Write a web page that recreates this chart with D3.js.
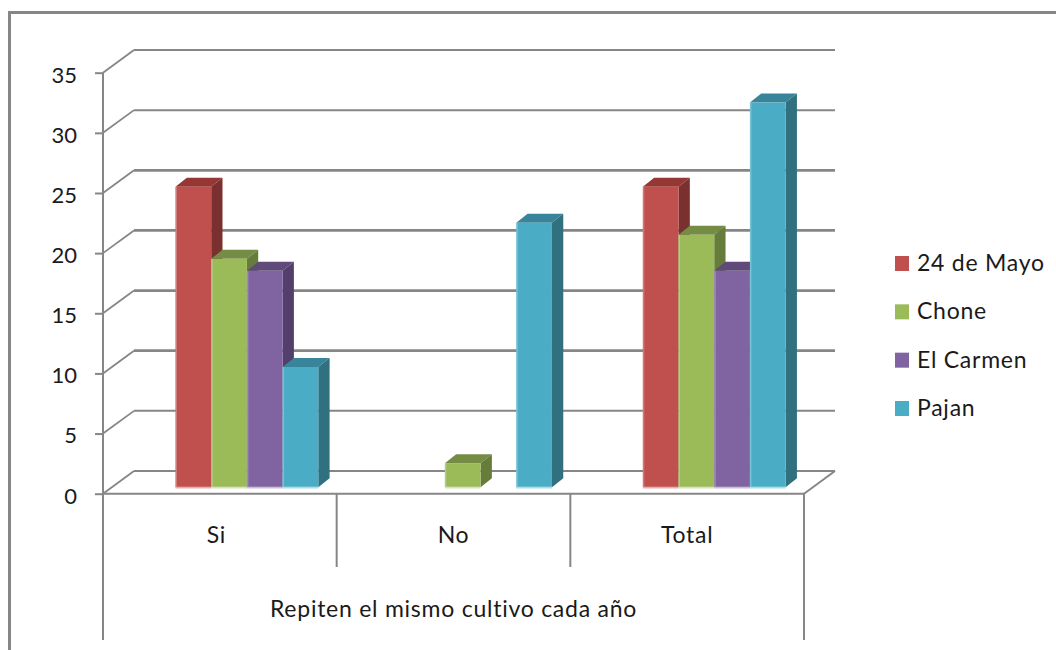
<!DOCTYPE html>
<html lang="es">
<head>
<meta charset="utf-8">
<title>Repiten el mismo cultivo cada año</title>
<script src="https://cdn.jsdelivr.net/npm/d3@7"></script>
<style>
  html, body { margin: 0; padding: 0; background: #fff; }
  svg { display: block; }
  text { font-family: Lato, "Open Sans", sans-serif; fill: #1a1a1a; font-size: 23px; letter-spacing: 0.75px; }
  .tick text { font-size: 22px; letter-spacing: 0; }
</style>
</head>
<body>
<svg id="chart" width="1056" height="650"></svg>
<script>
// Survey counts per canton; null means the canton has no bar in that group.
const categories = ["Si", "No", "Total"];
const seriesNames = ["24 de Mayo", "Chone", "El Carmen", "Pajan"];
const values24DeMayo = [25, null, 25];
const valuesChone = [19, 2, 21];
const valuesElCarmen = [18, null, 18];
const valuesPajan = [10, 22, 32];
const yTicks = [0, 5, 10, 15, 20, 25, 30, 35];
const groupTitle = "Repiten el mismo cultivo cada año";

const seriesValues = [values24DeMayo, valuesChone, valuesElCarmen, valuesPajan];
const faceColors = ["#C0504D", "#9BBB59", "#8064A2", "#4BACC6"];
const topColors = ["#943735", "#748C43", "#5F4A79", "#38849A"];
const sideColors = ["#7A302E", "#657C3A", "#533F6C", "#31707F"];
const baseColors = ["#E3AFAD", "#D6E3BC", "#C9BBD9", "#B0DDE8"];

const gray = "#868686";
const svg = d3.select("#chart");

// Outer frame: only the top and left edges fall inside the canvas.
svg.append("path")
  .attr("d", d3.line()([[9.5, 650], [9.5, 12.5], [1056, 12.5]]))
  .attr("fill", "none").attr("stroke", gray).attr("stroke-width", 3);

// Oblique projection: the back wall is shifted from the front plane.
const wallDx = 31, wallDy = 22.7;
const x = d3.scaleBand().domain(categories).range([103, 804]);
const yFront = d3.scaleLinear().domain([0, 35]).range([493.7, 72.7]);
const yBars = d3.scaleLinear().domain([0, 35]).range([487.2, 66.5]);
const xSeries = d3.scaleBand().domain(seriesNames)
  .range([72.5, 72.5 + 35.7 * seriesNames.length]);

// Back wall gridlines and the diagonals joining them to the front axis.
const wall = svg.append("g").attr("stroke", gray).attr("fill", "none");
yTicks.forEach(t => {
  const yf = yFront(t), yb = yf - wallDy;
  wall.append("line")
    .attr("x1", 103 + wallDx).attr("x2", 804 + wallDx)
    .attr("y1", yb).attr("y2", yb)
    .attr("stroke-width", t >= 10 && t <= 25 ? 2.8 : 2);
  wall.append("line")
    .attr("x1", 103).attr("x2", 103 + wallDx)
    .attr("y1", yf).attr("y2", yb)
    .attr("stroke-width", 1.8);
});
// Right-hand edge of the floor.
wall.append("line")
  .attr("x1", 804).attr("x2", 804 + wallDx)
  .attr("y1", yFront(0)).attr("y2", yFront(0) - wallDy)
  .attr("stroke-width", 2);

// Bars, left to right, so each front face overlaps its neighbour's side.
const barDx = 11.3, barDy = 9;
const barW = xSeries.bandwidth();
const bars = svg.append("g");
categories.forEach((cat, c) => {
  seriesNames.forEach((name, s) => {
    const v = seriesValues[s][c];
    if (v === null) return;
    const x0 = x(cat) + xSeries(name), x1 = x0 + barW;
    const yT = yBars(v), yB = yBars(0);
    bars.append("polygon")
      .attr("points", [[x0, yT], [x0 + barDx, yT - barDy], [x1 + barDx, yT - barDy], [x1, yT]].join(" "))
      .attr("fill", topColors[s]);
    bars.append("polygon")
      .attr("points", [[x1, yT], [x1 + barDx, yT - barDy], [x1 + barDx, yB - barDy], [x1, yB]].join(" "))
      .attr("fill", sideColors[s]);
    bars.append("rect")
      .attr("x", x0).attr("y", yT).attr("width", barW).attr("height", yB - yT)
      .attr("fill", faceColors[s]);
    // Pale lower rim of the bar.
    bars.append("rect")
      .attr("x", x0).attr("y", yB - 0.5).attr("width", barW).attr("height", 1.8)
      .attr("fill", baseColors[s]);
    // Soft highlight down the left edge.
    bars.append("rect")
      .attr("x", x0).attr("y", yT).attr("width", 1.5).attr("height", yB - yT)
      .attr("fill", baseColors[s]).attr("opacity", 0.45);
  });
});

// Value axis with the tick labels on the front plane.
const axisG = svg.append("g")
  .attr("transform", "translate(103,0)")
  .call(d3.axisLeft(yFront).tickValues(yTicks).tickSize(8).tickPadding(18).tickFormat(d3.format("d")));
axisG.select(".domain").remove();
axisG.selectAll(".tick line").attr("stroke", gray).attr("stroke-width", 2);
axisG.selectAll(".tick text").attr("font-family", null).attr("font-size", null).attr("dy", "0.36em")
  .attr("transform", "translate(0,1.5)").style("fill", "#1a1a1a");

// Front axis lines and the multi-level category separators.
const frame = svg.append("g").attr("stroke", gray).attr("fill", "none").attr("stroke-width", 2);
frame.append("line").attr("x1", 103).attr("x2", 804)
  .attr("y1", yFront(0)).attr("y2", yFront(0));
frame.append("line").attr("x1", 103).attr("x2", 103)
  .attr("y1", yFront(35)).attr("y2", 640);
frame.append("line").attr("x1", 804).attr("x2", 804)
  .attr("y1", yFront(0)).attr("y2", 640);
categories.slice(1).forEach(cat => {
  frame.append("line").attr("x1", x(cat)).attr("x2", x(cat))
    .attr("y1", yFront(0)).attr("y2", 567);
});

// Category labels and the group title below them; the short first label sits left of centre.
svg.append("g").selectAll("text").data(categories).join("text")
  .attr("x", (d, i) => x(d) + x.bandwidth() / 2 - (i === 0 ? 3.5 : 0))
  .attr("y", 543)
  .attr("text-anchor", "middle")
  .text(d => d);
svg.append("text")
  .attr("x", 453.5).attr("y", 617)
  .attr("text-anchor", "middle")
  .text(groupTitle);

// Legend.
const legendY = d3.scalePoint().domain(seriesNames).range([263.5, 408.5]);
const legend = svg.append("g").selectAll("g").data(seriesNames).join("g")
  .attr("transform", d => `translate(895,${legendY(d)})`);
legend.append("rect")
  .attr("x", 0).attr("y", -7.5).attr("width", 14).attr("height", 15)
  .attr("fill", (d, i) => faceColors[i]);
legend.append("text")
  .attr("x", 22).attr("y", 7.5)
  .text(d => d);
</script>
</body>
</html>
